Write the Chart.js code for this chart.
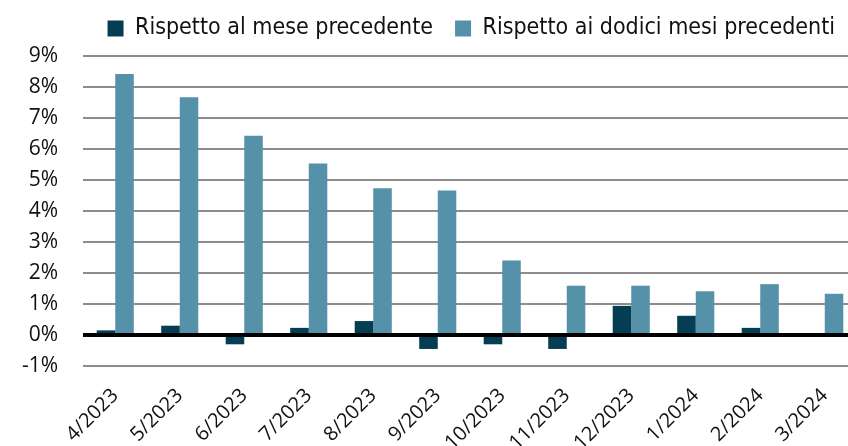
<!DOCTYPE html>
<html>
<head>
<meta charset="utf-8">
<script src="https://cdn.jsdelivr.net/npm/chart.js@4/dist/chart.umd.min.js"></script>
<style>
  html, body { margin: 0; padding: 0; background: #fff; overflow: hidden; }
  #box { width: 848px; height: 446px; overflow: hidden; }
</style>
</head>
<body>
<div id="box"><canvas id="inflation-chart" width="857" height="446"></canvas></div>
<script>
const months = ['4/2023', '5/2023', '6/2023', '7/2023', '8/2023', '9/2023', '10/2023', '11/2023', '12/2023', '1/2024', '2/2024', '3/2024'];
const monthOnMonth = [0.15, 0.3, -0.3, 0.23, 0.45, -0.45, -0.3, -0.45, 0.94, 0.62, 0.23, -0.05];
const yearOnYear = [8.42, 7.67, 6.43, 5.53, 4.73, 4.66, 2.4, 1.59, 1.59, 1.41, 1.64, 1.33];

// thick black line on 0%, drawn over the bars
const zeroLine = {
    id: 'zeroLine',
    afterDatasetsDraw(chart) {
        const ctx = chart.ctx;
        const y = chart.scales.y.getPixelForValue(0);
        ctx.save();
        ctx.strokeStyle = '#000';
        ctx.lineWidth = 4;
        ctx.beginPath();
        ctx.moveTo(chart.chartArea.left, y);
        ctx.lineTo(chart.chartArea.right, y);
        ctx.stroke();
        ctx.restore();
    }
};

// fixed legend band height
const legendHeight = {
    id: 'legendHeight',
    beforeInit(chart) {
        const leg = chart.legend;
        const fit = leg.fit;
        leg.fit = function () {
            fit.call(this);
            this.height = 61;
        };
    }
};

let ctx = document.getElementById('inflation-chart').getContext('2d');

let inflationChart = new Chart(ctx, {
    type: 'bar',
    data: {
        labels: months,
        datasets: [{
            label: 'Rispetto al mese precedente',
            data: monthOnMonth,
            backgroundColor: '#053D53',
            borderWidth: 0
        },
        {
            label: 'Rispetto ai dodici mesi precedenti',
            data: yearOnYear,
            backgroundColor: '#5592AA',
            borderWidth: 0
        }]
    },
    options: {
        responsive: false,
        animation: false,
        layout: { padding: { top: -5, left: 0, right: 0, bottom: 0 } },
        datasets: {
            bar: { categoryPercentage: 0.575, barPercentage: 1 }
        },
        plugins: {
            legend: {
                align: 'end',
                labels: {
                    boxWidth: 16,
                    boxHeight: 16,
                    padding: 22,
                    color: '#111',
                    font: { family: "'Liberation Sans Narrow', 'DejaVu Sans Condensed', sans-serif", size: 23 }
                }
            },
            tooltip: { enabled: false }
        },
        scales: {
            x: {
                grid: { display: false },
                border: { display: false },
                ticks: {
                    color: '#111',
                    maxRotation: 45,
                    minRotation: 45,
                    padding: 10,
                    font: { family: "'Open Sans', sans-serif", size: 20 }
                },
                afterFit(scale) { scale.height = 80; }
            },
            y: {
                min: -1,
                max: 9,
                border: { display: false },
                grid: { color: '#8c8c8c', lineWidth: 2, drawTicks: false },
                ticks: {
                    stepSize: 1,
                    padding: 25,
                    color: '#111',
                    font: { family: "'Open Sans', sans-serif", size: 21 },
                    callback: (v) => v + '%'
                },
                afterFit(scale) { scale.width = 83; }
            }
        }
    },
    plugins: [zeroLine, legendHeight]
});
</script>
</body>
</html>
